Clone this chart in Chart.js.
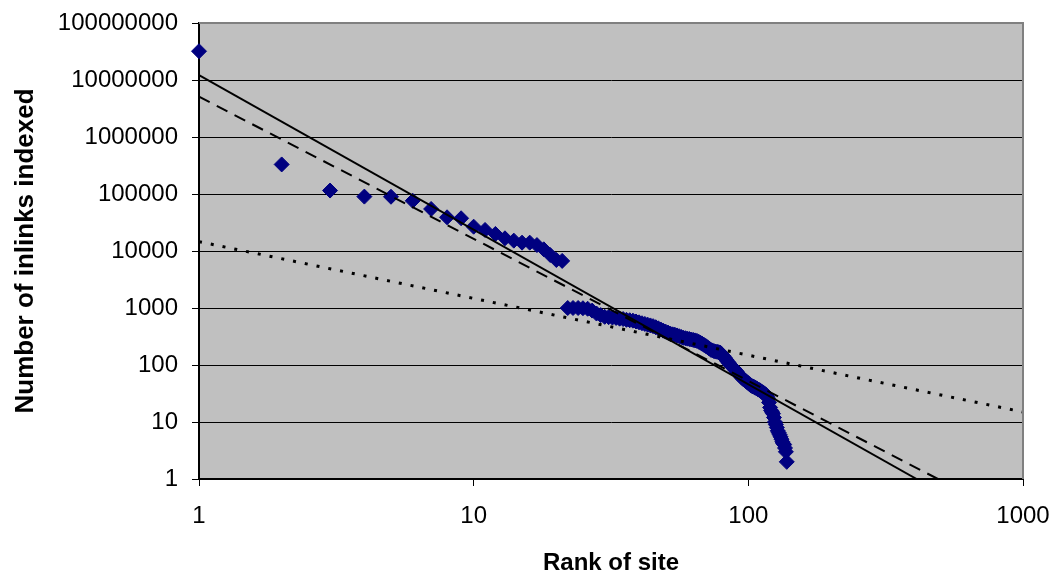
<!DOCTYPE html>
<html>
<head>
<meta charset="utf-8">
<script src="https://cdn.jsdelivr.net/npm/chart.js@4"></script>
<style>
  html, body { margin: 0; padding: 0; background: #fff; }
  #wrap { width: 1059px; height: 574px; }
</style>
</head>
<body>
<div id="wrap"><canvas id="rankChart"></canvas></div>
<script>
// rank of each site and the number of inlinks indexed for it
const ranks = [
  1, 2, 3, 4, 5, 6, 7, 8, 9, 10, 11, 12, 13, 14, 15, 16, 17, 18, 19, 20, 21,
  22, 23, 24, 25, 26, 27, 28, 29, 30, 31, 32, 33, 34, 35, 36, 37, 38, 39, 40,
  41, 42, 43, 44, 45, 46, 47, 48, 49, 50, 51, 52, 53, 54, 55, 56, 57, 58, 59, 60,
  61, 62, 63, 64, 65, 66, 67, 68, 69, 70, 71, 72, 73, 74, 75, 76, 77, 78, 79, 80,
  81, 82, 83, 84, 85, 86, 87, 88, 89, 90, 91, 92, 93, 94, 95, 96, 97, 98, 99, 100,
  101, 102, 103, 104, 105, 106, 107, 108, 109, 110, 111, 112, 113, 114, 115, 116, 117, 118, 119, 120,
  121, 122, 123, 124, 125, 126, 127, 128, 129, 130, 131, 132, 133, 134, 135, 136, 137, 138
];
const inlinks = [
  32000000, 330000, 115000, 90000, 89500, 76000, 54600, 39000, 37500, 26700,
  23400, 19900, 16700, 15200, 14000, 14000, 12700, 10700, 8500, 6950, 6700,
  1000, 1000, 1000, 990, 970, 900, 800, 750, 700,
  690, 680, 670, 650, 640, 620, 610, 600, 580, 560,
  540, 525, 510, 495, 480, 460, 440, 420, 400, 385, 370, 355, 345,
  340, 330, 320, 310, 300, 295, 290, 285, 280, 275, 270, 265,
  255, 245, 235, 225, 215, 205, 195, 185, 180, 175, 172, 170, 168, 165,
  155, 145, 135, 125, 115, 108, 100, 95, 90,
  85, 80, 75, 70, 66, 62, 59, 56, 54, 52, 50,
  48, 46, 44, 43, 42, 41, 40, 39, 38, 37, 36, 35, 34, 33, 32, 31, 30, 28, 26, 22, 18, 16, 15, 14,
  12, 10, 9, 8, 7, 6.5, 6, 5.5, 5, 4.5, 4.2, 4, 3.5, 3, 2
];

// trend lines (end points)
const solidX = [1, 410];
const solidY = [12200000, 1];
const dashedX = [1, 490];
const dashedY = [5100000, 1];
const dottedX = [1, 1000];
const dottedY = [14600, 15];

const xTicks = [1, 10, 100, 1000];
const yTicks = [1, 10, 100, 1000, 10000, 100000, 1000000, 10000000, 100000000];

const toPoints = (xs, ys) => xs.map((x, i) => ({ x: x, y: ys[i] }));

// grey plot area + top/right frame
const plotFrame = {
  id: "plotFrame",
  beforeDraw(chart) {
    const { ctx, chartArea: a } = chart;
    ctx.save();
    ctx.fillStyle = "#C0C0C0";
    ctx.fillRect(a.left, a.top, a.right - a.left, a.bottom - a.top);
    ctx.restore();
  },
  afterDraw(chart) {
    const { ctx, chartArea: a } = chart;
    ctx.save();
    ctx.strokeStyle = "#808080";
    ctx.lineWidth = 2;
    ctx.beginPath();
    ctx.moveTo(a.left, a.top);
    ctx.lineTo(a.right, a.top);
    ctx.lineTo(a.right, a.bottom);
    ctx.stroke();
    ctx.restore();
  }
};

const ctx = document.getElementById("rankChart").getContext("2d");
new Chart(ctx, {
  type: "scatter",
  data: {
    datasets: [
      {
        label: "Power fit",
        data: toPoints(solidX, solidY),
        showLine: true,
        borderColor: "#000",
        borderWidth: 2,
        pointRadius: 0,
        order: 1
      },
      {
        label: "Fit 2",
        data: toPoints(dashedX, dashedY),
        showLine: true,
        borderColor: "#000",
        borderWidth: 2,
        borderDash: [12, 8],
        pointRadius: 0,
        order: 2
      },
      {
        label: "Fit 3",
        data: toPoints(dottedX, dottedY),
        showLine: true,
        borderColor: "#000",
        borderWidth: 3,
        borderDash: [3, 9],
        pointRadius: 0,
        order: 3
      },
      {
        label: "Inlinks",
        data: toPoints(ranks, inlinks),
        pointStyle: "rectRot",
        pointRadius: 7.5,
        backgroundColor: "#000080",
        borderColor: "#000080",
        borderWidth: 1,
        clip: false,
        order: 4
      }
    ]
  },
  options: {
    responsive: true,
    maintainAspectRatio: false,
    animation: false,
    layout: { padding: { left: 0, right: 36, top: 23, bottom: 0 } },
    plugins: {
      legend: { display: false },
      tooltip: { enabled: false }
    },
    scales: {
      x: {
        type: "logarithmic",
        min: 1,
        max: 1000,
        afterBuildTicks: (scale) => { scale.ticks = xTicks.map((v) => ({ value: v })); },
        afterFit: (scale) => { scale.height = 95; },
        ticks: {
          color: "#000",
          padding: 0,
          maxRotation: 0,
          autoSkip: false,
          // tall line box pushes the label down without widening the side padding
          font: { family: "'Liberation Sans', Arial, sans-serif", size: 24, lineHeight: "60px" },
          callback: (v) => String(v)
        },
        grid: { drawOnChartArea: false, drawTicks: true, tickLength: 7, color: "#000" },
        border: { display: true, color: "#000", width: 2 },
        title: {
          display: true,
          text: "Rank of site",
          color: "#000",
          font: { family: "'Liberation Sans', Arial, sans-serif", size: 24, weight: "bold", lineHeight: "21px" },
          padding: { top: 0, bottom: 0 }
        }
      },
      y: {
        type: "logarithmic",
        min: 1,
        max: 100000000,
        afterBuildTicks: (scale) => { scale.ticks = yTicks.map((v) => ({ value: v })); },
        afterFit: (scale) => { scale.width = 199; },
        ticks: {
          color: "#000",
          padding: 14,
          autoSkip: false,
          font: { family: "'Liberation Sans', Arial, sans-serif", size: 24, lineHeight: "12px" },
          callback: (v) => String(v)
        },
        grid: {
          drawTicks: true,
          tickLength: 7,
          tickColor: "#000",
          color: (c) => (c.tick && c.tick.value === 100000000 ? "#808080" : "#000"),
          lineWidth: 1
        },
        border: { display: true, color: "#000", width: 2 },
        title: {
          display: true,
          text: "Number of inlinks indexed",
          color: "#000",
          font: { family: "'Liberation Sans', Arial, sans-serif", size: 26, weight: "bold" },
          padding: { top: 10, bottom: 0 }
        }
      }
    }
  },
  plugins: [plotFrame]
});
</script>
</body>
</html>
